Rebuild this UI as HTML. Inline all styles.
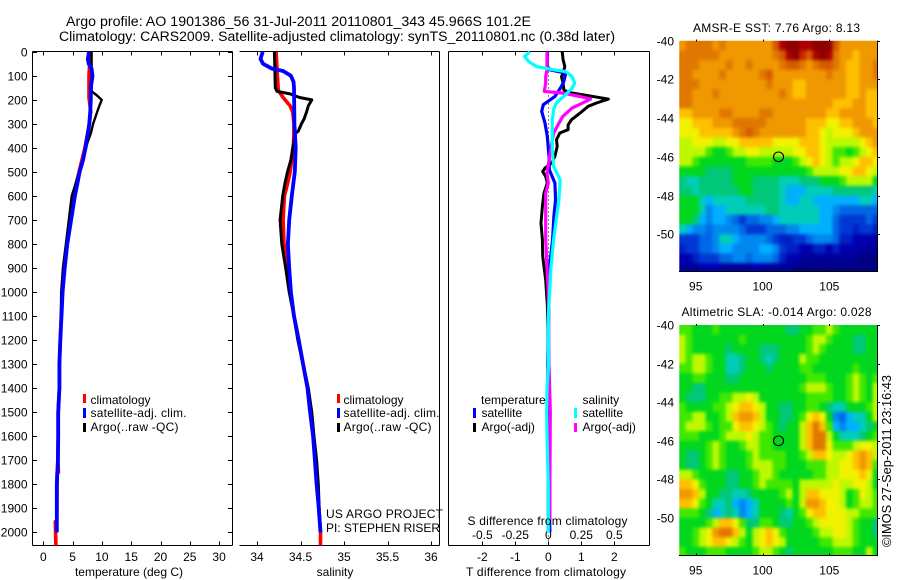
<!DOCTYPE html>
<html>
<head>
<meta charset="utf-8">
<title>Argo profile</title>
<style>
html,body{margin:0;padding:0;background:#fff;}
svg{display:block;}
text{font-family:"Liberation Sans",sans-serif;font-size:12px;fill:#000;}
</style>
</head>
<body>
<svg id="chart" xmlns="http://www.w3.org/2000/svg" width="900" height="580" viewBox="0 0 900 580">
<rect x="0" y="0" width="900" height="580" fill="#fff"/>
<defs>
<clipPath id="clip1"><rect x="679.3" y="40.7" width="198" height="231"/></clipPath>
<clipPath id="clip2"><rect x="679.3" y="325" width="198" height="230"/></clipPath>
<filter id="smooth" color-interpolation-filters="sRGB" x="-5%" y="-5%" width="110%" height="110%">
<feGaussianBlur stdDeviation="1.5"/>
<feComponentTransfer><feFuncA type="table" tableValues="0 1 1 1 1"/></feComponentTransfer>
</filter>
</defs>
<text style="font-size:13.5px" x="66" y="26" textLength="465" lengthAdjust="spacingAndGlyphs">Argo profile: AO 1901386_56 31-Jul-2011 20110801_343 45.966S 101.2E</text>
<text style="font-size:13.5px" x="59" y="41" textLength="556" lengthAdjust="spacingAndGlyphs">Climatology: CARS2009. Satellite-adjusted climatology: synTS_20110801.nc (0.38d later)</text>

<g id="panels"></g>

<g>
<rect x="83" y="394" width="3" height="9" fill="#f00"/>
<text x="90.5" y="404">climatology</text>
<rect x="83" y="408" width="3" height="10" fill="#00f"/>
<text x="90.5" y="417" textLength="96" lengthAdjust="spacing">satellite-adj. clim.</text>
<rect x="83" y="423" width="3" height="9" fill="#000"/>
<text x="90.5" y="431" textLength="88" lengthAdjust="spacing">Argo(..raw -QC)</text>
</g>
<g>
<rect x="337" y="394" width="3" height="9" fill="#f00"/>
<text x="343.5" y="404">climatology</text>
<rect x="337" y="408" width="3" height="10" fill="#00f"/>
<text x="343.5" y="417" textLength="96" lengthAdjust="spacing">satellite-adj. clim.</text>
<rect x="337" y="423" width="3" height="9" fill="#000"/>
<text x="343.5" y="431" textLength="88" lengthAdjust="spacing">Argo(..raw -QC)</text>
</g>
<text x="326" y="518" textLength="117" lengthAdjust="spacing">US ARGO PROJECT</text>
<text x="326" y="532" textLength="114" lengthAdjust="spacing">PI: STEPHEN RISER</text>

<g>
<text x="481" y="404">temperature</text>
<rect x="473" y="408" width="3" height="10" fill="#00f"/>
<text x="481.5" y="417">satellite</text>
<rect x="473" y="423" width="3" height="9" fill="#000"/>
<text x="481.5" y="431">Argo(-adj)</text>
<text x="582.5" y="404">salinity</text>
<rect x="574" y="408" width="3" height="10" fill="#0ff"/>
<text x="582.5" y="417">satellite</text>
<rect x="574" y="423" width="3" height="9" fill="#f0f"/>
<text x="582.5" y="431">Argo(-adj)</text>
</g>

<text x="129" y="576" text-anchor="middle">temperature (deg C)</text>
<text x="335" y="576" text-anchor="middle">salinity</text>
<text x="546" y="576" text-anchor="middle" textLength="160" lengthAdjust="spacing">T difference from climatology</text>
<text x="547.5" y="525" text-anchor="middle" textLength="160" lengthAdjust="spacing">S difference from climatology</text>
<text x="693" y="32" textLength="167" lengthAdjust="spacing">AMSR-E SST: 7.76 Argo: 8.13</text>
<text x="681.5" y="316" textLength="190" lengthAdjust="spacing">Altimetric SLA: -0.014 Argo: 0.028</text>
<text style="font-size:13px" transform="translate(891 547) rotate(-90)" x="0" y="0" textLength="172" lengthAdjust="spacingAndGlyphs">©IMOS 27-Sep-2011 23:16:43</text>
</svg>

<script>
// ---------- tick labels ----------
const depthTicks = [0,100,200,300,400,500,600,700,800,900,1000,1100,1200,1300,1400,1500,1600,1700,1800,1900,2000];
const tempTicks = [0,5,10,15,20,25,30];
const salTicks = [34,34.5,35,35.5,36];
const tDiffTicks = [-2,-1,0,1,2];
const sDiffTicks = [-0.5,-0.25,0,0.25,0.5];
const lonTicks = [95,100,105];
const latTicks = [-40,-42,-44,-46,-48,-50];
const floatLon = 101.2;
const floatLat = -46;

// ---------- temperature profiles ----------
const tempClimDepth = [0,100,190,250,300,400,500,550,600,700,800,900,1000,1100,1200,1300,1400,1500,1600,1700,1750,1755,1950,1955,2055];
const tempClimVal = [8,7.8,7.8,8.1,7.85,7.1,6.1,5.6,5.2,4.6,4.0,3.6,3.25,3.05,2.9,2.75,2.75,2.55,2.55,2.5,2.6,2.35,2.3,2.05,2.15];
const tempSatDepth = [0,30,50,70,100,150,200,250,300,350,400,450,500,550,600,700,800,900,1000,1100,1200,1300,1400,1500,1600,1700,1800,1900,2000];
const tempSatVal = [7.8,7.6,7.75,8.25,8.4,8.1,8.1,8,7.85,7.55,7.2,6.8,6.2,5.8,5.4,4.75,4.1,3.65,3.3,3.1,2.9,2.75,2.75,2.55,2.55,2.5,2.3,2.3,2.3];
const tempArgoDepth = [0,100,165,180,200,225,250,300,340,380,420,500,600,700,800,900,1000,1100,1200,1300,1400,1500,1600,1700,1800,1900,2000];
const tempArgoVal = [8.25,8.25,8.25,9.1,9.96,9.55,9.2,8.5,8.1,7.5,7.1,6.15,4.85,4.35,3.85,3.35,3.05,3.0,2.9,2.7,2.7,2.55,2.55,2.5,2.3,2.3,2.3];

// ---------- salinity profiles ----------
const salClimDepth = [0,100,160,190,225,250,300,400,500,550,600,700,800,900,1000,1100,1200,1300,1400,1500,1600,1700,1800,1900,2000,2055];
const salClimVal = [34.22,34.235,34.245,34.3,34.38,34.41,34.425,34.42,34.38,34.35,34.315,34.3,34.31,34.35,34.38,34.425,34.475,34.53,34.585,34.62,34.65,34.675,34.695,34.71,34.73,34.73];
const salSatDepth = [0,30,50,70,80,100,125,150,300,400,500,600,700,800,900,1000,1100,1200,1300,1400,1500,1600,1700,1800,1900,2000];
const salSatVal = [34.065,34.04,34.07,34.17,34.3,34.39,34.42,34.425,34.43,34.445,34.435,34.4,34.37,34.355,34.37,34.39,34.425,34.48,34.53,34.58,34.61,34.645,34.665,34.685,34.71,34.73];
const salArgoDepth = [0,150,165,175,190,200,225,250,280,300,330,340,400,450,500,550,600,700,800,900,1000,1100,1200,1300,1400,1500,1600,1700,1800,1900,2000];
const salArgoVal = [34.2,34.21,34.23,34.38,34.49,34.63,34.59,34.57,34.54,34.51,34.475,34.44,34.41,34.39,34.35,34.32,34.295,34.265,34.285,34.33,34.37,34.425,34.47,34.53,34.59,34.63,34.655,34.685,34.705,34.715,34.73];

// ---------- difference profiles ----------
const dTArgoDepth = [0,33,61,89,103,130,158,169,179,197,213,227,255,283,304,324,338,366,394,435,463,484,498,519,546,588,643,713,782,850,950,1050,1200,2000];
const dTArgoVal = [0.42,0.45,0.5,0.45,0.4,0.45,0.47,0.6,1.06,1.82,1.46,1.21,0.96,0.7,0.6,0.6,0.35,0.25,0.27,0.2,0.1,-0.1,-0.17,-0.08,-0.03,-0.13,-0.18,-0.22,-0.18,-0.17,-0.08,-0.03,0,0];
const dTSatDepth = [0,33,60,75,85,89,123,144,186,220,248,297,352,435,491,546,615,684,782,900,1000,1200,1500,1700,2000];
const dTSatVal = [-0.03,-0.03,-0.03,0.05,0.4,0.53,0.47,0.4,0.2,-0.15,-0.2,-0.1,-0.03,0.02,0.03,0.2,0.22,0.17,0.13,0.03,0.02,0,-0.03,0,0.05];
const dSArgoDepth = [0,75,103,130,165,172,186,197,213,234,269,297,338,435,505,546,588,643,713,782,900,1000,1300,1500,1800,1950];
const dSArgoVal = [-0.01,-0.01,-0.02,-0.02,-0.03,0.11,0.24,0.32,0.26,0.18,0.11,0.08,0.04,0.01,-0.01,0,-0.02,-0.02,-0.02,-0.02,-0.01,0,0.005,0.015,0.012,0.012];
const dSSatDepth = [0,19,40,61,75,82,103,130,151,179,213,241,283,352,408,477,533,616,699,782,900,1000,1100,1300,1400,1500,1600,1700,1800,2000];
const dSSatVal = [-0.14,-0.18,-0.15,-0.09,0.04,0.13,0.18,0.2,0.18,0.13,0.06,0.04,0.03,0.03,0.03,0.04,0.09,0.08,0.06,0.04,0.02,0.01,0,0.002,-0.01,-0.012,-0.01,-0.005,0,0];

// ---------- map colour scale ----------
const mapPalette = ["#000082","#00009a","#0000b0","#0020c4","#0038d4","#0068e4","#0088f0","#00b0ff","#00cdb8","#00c878","#00d71e","#40e800","#bef800","#f2f200","#ffc000","#f09800","#e07800","#d75a00","#c82800","#ad0000","#8c0000"];

// ---------- SST map levels (rows north to south, 0.5 degree cells) ----------
const sstRow00 = [15,16,16,16,16,15,16,15,15,15,15,15,15,15,17,19,20,20,19,19,20,20,20,17,15,15,15,15,15,15];
const sstRow01 = [16,16,16,16,16,16,15,15,15,15,15,15,15,15,16,17,19,20,18,17,19,20,19,16,15,15,14,15,15,15];
const sstRow02 = [16,16,16,15,15,15,15,16,15,15,16,15,15,15,15,16,17,17,16,15,16,17,17,16,15,14,14,15,15,16];
const sstRow03 = [16,16,15,15,15,15,16,15,15,15,15,15,16,17,15,15,15,15,15,15,15,15,16,15,15,14,14,15,15,16];
const sstRow04 = [16,16,16,15,15,15,15,15,15,15,15,15,15,16,15,15,15,14,14,15,15,15,15,15,15,14,14,15,15,15];
const sstRow05 = [16,16,15,15,15,16,15,15,15,15,15,15,15,15,15,16,15,14,14,15,15,15,15,15,15,14,14,15,14,14];
const sstRow06 = [16,16,15,15,15,15,15,15,15,15,15,15,15,15,15,15,15,15,15,15,15,15,15,14,14,14,15,15,14,14];
const sstRow07 = [14,14,15,15,15,15,16,16,15,15,15,15,16,16,15,15,15,15,15,15,15,15,14,14,15,15,15,15,14,14];
const sstRow08 = [13,13,14,14,14,15,15,15,16,16,16,16,16,15,15,15,15,15,15,14,14,14,13,13,14,14,15,15,15,14];
const sstRow09 = [13,13,13,14,14,14,14,14,15,16,17,16,15,15,15,15,15,15,15,14,14,13,12,13,13,13,14,15,15,15];
const sstRow10 = [12,12,13,13,13,12,12,13,13,14,14,14,14,14,13,13,13,13,14,14,14,13,12,12,12,12,12,13,14,15];
const sstRow11 = [12,12,12,12,11,10,10,11,12,12,13,13,12,12,12,12,12,13,13,14,14,13,12,11,11,10,11,12,13,14];
const sstRow12 = [12,12,11,10,10,10,10,10,10,10,11,11,11,11,10,10,10,11,12,13,14,13,12,11,12,12,13,14,14,13];
const sstRow13 = [10,10,10,10,9,9,9,9,10,10,10,10,10,10,10,10,10,10,10,11,12,12,12,12,13,13,14,14,13,12];
const sstRow14 = [9,8,8,9,9,9,9,9,10,10,10,9,9,9,9,8,8,8,9,9,9,10,10,10,11,12,12,12,12,10];
const sstRow15 = [9,9,8,9,9,9,9,9,9,10,10,9,9,9,9,8,7,7,7,8,8,8,8,9,9,9,9,9,9,8];
const sstRow16 = [10,10,10,8,7,8,8,8,8,8,9,9,9,9,9,8,7,7,8,8,7,7,7,7,7,7,7,8,8,7];
const sstRow17 = [10,10,10,8,6,7,7,8,8,8,8,8,8,9,9,8,8,8,8,8,8,7,7,6,5,5,5,5,5,5];
const sstRow18 = [10,10,9,7,6,7,7,6,5,4,5,5,6,6,7,8,8,8,8,8,8,7,7,5,4,4,4,4,5,4];
const sstRow19 = [8,7,6,6,5,6,6,6,6,5,4,4,4,5,5,5,6,6,7,7,7,7,7,5,4,4,3,4,4,3];
const sstRow20 = [4,4,4,5,5,6,8,8,7,6,6,6,6,5,4,3,3,4,4,5,6,6,6,5,3,3,2,2,2,2];
const sstRow21 = [3,4,4,5,5,6,7,7,6,6,6,6,7,7,6,4,3,3,2,2,3,3,2,3,2,2,2,1,1,1];
const sstRow22 = [2,2,3,4,4,4,5,5,6,6,5,6,6,6,5,3,2,2,1,1,1,1,1,1,1,1,1,0,0,0];
const sstRow23 = [1,1,1,2,2,2,1,1,1,1,1,2,2,1,1,1,1,0,0,0,0,0,0,0,0,0,0,0,0,0];
const sstLevels = [sstRow00,sstRow01,sstRow02,sstRow03,sstRow04,sstRow05,sstRow06,sstRow07,sstRow08,sstRow09,sstRow10,sstRow11,sstRow12,sstRow13,sstRow14,sstRow15,sstRow16,sstRow17,sstRow18,sstRow19,sstRow20,sstRow21,sstRow22,sstRow23];

// ---------- SLA map levels ----------
const slaRow00 = [11,11,10,10,10,11,10,10,10,10,10,10,10,10,10,10,9,9,10,10,11,11,12,11,10,10,10,10,10,10];
const slaRow01 = [12,11,10,10,10,10,10,10,10,11,10,10,10,10,10,10,10,10,10,11,12,12,11,10,10,10,9,9,10,10];
const slaRow02 = [12,11,10,10,10,10,10,9,10,10,10,10,9,9,9,10,10,10,10,11,12,11,10,10,10,10,9,9,10,10];
const slaRow03 = [12,11,12,12,11,10,10,8,8,9,10,10,9,8,9,10,10,10,12,11,11,10,10,10,10,10,10,10,10,10];
const slaRow04 = [11,11,12,12,11,10,10,8,8,9,10,10,10,9,10,10,10,10,11,11,10,10,10,10,10,10,11,10,10,10];
const slaRow05 = [10,10,11,11,10,10,10,9,9,10,10,10,10,10,10,10,10,10,10,11,11,11,10,10,10,11,12,11,10,11];
const slaRow06 = [10,10,9,9,10,10,10,10,10,10,10,10,10,10,10,10,10,10,11,12,12,12,11,10,10,11,12,11,10,12];
const slaRow07 = [10,9,9,9,10,10,11,11,12,12,13,12,10,10,10,10,10,10,10,11,11,11,11,10,10,11,12,11,10,12];
const slaRow08 = [11,10,10,10,10,11,11,12,13,14,14,13,12,10,10,9,9,10,10,11,11,10,9,8,8,10,10,10,11,12];
const slaRow09 = [11,11,12,12,10,10,11,12,14,15,15,14,12,10,10,9,9,10,11,13,14,13,10,6,5,7,8,8,10,12];
const slaRow10 = [11,12,12,12,11,10,11,11,13,14,14,13,12,11,10,9,10,10,12,14,16,14,11,7,6,7,7,8,9,10];
const slaRow11 = [11,11,11,10,10,10,11,12,12,12,13,12,11,11,10,10,10,10,12,14,16,16,12,10,8,8,8,9,10,11];
const slaRow12 = [10,10,10,10,11,12,11,10,10,11,12,12,11,11,10,10,10,10,12,14,16,16,13,11,11,11,12,13,13,12];
const slaRow13 = [10,9,9,10,11,12,11,10,10,10,11,12,11,11,11,11,10,10,11,12,14,14,13,12,12,13,14,15,14,12];
const slaRow14 = [10,9,9,10,11,12,11,10,10,10,11,12,12,12,11,11,10,10,10,11,11,11,12,12,13,13,14,15,14,11];
const slaRow15 = [12,12,11,10,10,10,10,9,9,10,10,11,12,12,11,10,10,10,10,10,11,11,12,12,13,13,13,14,13,10];
const slaRow16 = [14,14,13,11,10,10,10,9,9,10,10,11,12,11,11,11,11,10,12,12,12,12,12,13,12,12,13,13,12,10];
const slaRow17 = [15,15,14,12,10,10,9,9,8,8,9,10,10,10,10,11,12,10,12,14,14,13,13,13,12,10,11,13,12,11];
const slaRow18 = [14,14,13,11,10,8,8,9,7,6,7,8,10,10,10,10,11,10,12,15,15,14,13,13,12,10,11,12,12,11];
const slaRow19 = [11,11,11,10,9,7,8,9,8,6,7,8,10,10,10,9,8,10,11,13,14,14,13,13,13,12,12,11,11,11];
const slaRow20 = [10,10,10,10,11,12,14,14,13,11,9,9,11,11,10,9,9,10,10,11,12,13,13,13,13,12,11,10,10,9];
const slaRow21 = [10,10,11,12,13,15,16,16,14,12,10,12,13,14,13,11,10,10,10,10,11,12,12,13,13,12,11,10,10,9];
const slaRow22 = [10,10,11,12,13,14,14,13,12,11,10,12,13,14,13,12,10,10,10,10,10,11,11,12,12,12,11,10,10,10];
const slaRow23 = [11,10,10,10,11,11,11,10,10,10,10,11,12,12,11,10,9,10,10,10,10,10,10,11,11,11,10,10,12,10];
const slaLevels = [slaRow00,slaRow01,slaRow02,slaRow03,slaRow04,slaRow05,slaRow06,slaRow07,slaRow08,slaRow09,slaRow10,slaRow11,slaRow12,slaRow13,slaRow14,slaRow15,slaRow16,slaRow17,slaRow18,slaRow19,slaRow20,slaRow21,slaRow22,slaRow23];

// ---------- axis functions ----------
const NS = "http://www.w3.org/2000/svg";
const PTOP = 51.5, PBOT = 545.5;
function yDepth(d){ return 51.8 + 0.2403 * d; }
function xTemp(v){ return 43.3 + 5.86 * v; }
function xSal(v){ return 257 + 87 * (v - 34); }
function xDT(v){ return 548.3 + 33 * v; }
function xDS(v){ return 548.3 + 132 * v; }
function xLon(v){ return 695.7 + 13.36 * (v - 95); }
function yLat1(v){ return 40.7 + 19.35 * (-40 - v); }
function yLat2(v){ return 325 + 19.3 * (-40 - v); }

const root = document.getElementById("panels");

function addLine(parent, x1, y1, x2, y2, name){
  const el = document.createElementNS(NS, "line");
  el.setAttribute("x1", x1);
  el.setAttribute("y1", y1);
  el.setAttribute("x2", x2);
  el.setAttribute("y2", y2);
  el.setAttribute("stroke", "#000");
  el.setAttribute("stroke-width", "1");
  el.setAttribute("shape-rendering", "crispEdges");
  
  
  parent.appendChild(el);
  return el;
}
function addText(parent, x, y, str, anchor, name){
  const el = document.createElementNS(NS, "text");
  el.setAttribute("x", x);
  el.setAttribute("y", y);
  el.setAttribute("text-anchor", anchor);
  el.textContent = str;
  
  
  parent.appendChild(el);
  return el;
}
function addGroup(name){
  const g = document.createElementNS(NS, "g");
  
  
  root.appendChild(g);
  return g;
}
function addSeries(parent, xs, depths, xFn, color, width, name){
  const el = document.createElementNS(NS, "polyline");
  const n = Math.min(xs.length, depths.length);
  const pts = [];
  for (let i = 0; i < n; i++) pts.push(xFn(xs[i]).toFixed(1) + "," + yDepth(depths[i]).toFixed(1));
  el.setAttribute("points", pts.join(" "));
  el.setAttribute("fill", "none");
  el.setAttribute("stroke", color);
  el.setAttribute("stroke-width", width);
  el.setAttribute("stroke-linejoin", "round");
  
  
  parent.appendChild(el);
}

// ---------- panel 1: temperature ----------
const p1 = addGroup("temperature-panel");
addLine(p1, 32.5, PTOP, 232.5, PTOP, "temperature-top-axis");
addLine(p1, 32.5, PBOT, 232.5, PBOT, "temperature-bottom-axis");
addLine(p1, 32.5, PTOP, 32.5, PBOT, "temperature-left-axis");
addLine(p1, 232.5, PTOP, 232.5, PBOT, "temperature-right-axis");
depthTicks.forEach(function(d){
  const y = Math.round(yDepth(d)) + 0.5;
  addLine(p1, 32.5, y, 37, y, "depth-tick-left");
  addLine(p1, 228, y, 232.5, y, "depth-tick-right");
  addText(p1, 27.5, y + 4, String(d), "end", "depth-tick-label");
});
tempTicks.forEach(function(v){
  const x = Math.round(xTemp(v)) + 0.5;
  addLine(p1, x, PTOP, x, PTOP + 4, "temperature-tick-top");
  addLine(p1, x, PBOT - 4, x, PBOT, "temperature-tick-bottom");
  addText(p1, xTemp(v), 561, String(v), "middle", "temperature-tick-label");
});
addSeries(p1, tempClimVal, tempClimDepth, xTemp, "#f00", 3.6, "temperature-climatology-line");
addSeries(p1, tempArgoVal, tempArgoDepth, xTemp, "#000", 2.4, "temperature-argo-line");
addSeries(p1, tempSatVal, tempSatDepth, xTemp, "#00f", 3.8, "temperature-satellite-line");

// ---------- panel 2: salinity ----------
const p2 = addGroup("salinity-panel");
addLine(p2, 239.5, PTOP, 439.5, PTOP, "salinity-top-axis");
addLine(p2, 239.5, PBOT, 439.5, PBOT, "salinity-bottom-axis");
addLine(p2, 439.5, PTOP, 439.5, PBOT, "salinity-right-axis");
salTicks.forEach(function(v){
  const x = Math.round(xSal(v)) + 0.5;
  addLine(p2, x, PTOP, x, PTOP + 4, "salinity-tick-top");
  addLine(p2, x, PBOT - 4, x, PBOT, "salinity-tick-bottom");
  addText(p2, xSal(v), 561, String(v), "middle", "salinity-tick-label");
});
addSeries(p2, salClimVal, salClimDepth, xSal, "#f00", 3.6, "salinity-climatology-line");
addSeries(p2, salArgoVal, salArgoDepth, xSal, "#000", 3, "salinity-argo-line");
addSeries(p2, salSatVal, salSatDepth, xSal, "#00f", 3.8, "salinity-satellite-line");

// ---------- panel 3: differences ----------
const p3 = addGroup("difference-panel");
addLine(p3, 448.5, PTOP, 649.5, PTOP, "difference-top-axis");
addLine(p3, 448.5, PBOT, 649.5, PBOT, "difference-bottom-axis");
addLine(p3, 448.5, PTOP, 448.5, PBOT, "difference-left-axis");
addLine(p3, 649.5, PTOP, 649.5, PBOT, "difference-right-axis");
tDiffTicks.forEach(function(v){
  const x = Math.round(xDT(v)) + 0.5;
  addLine(p3, x, PTOP, x, PTOP + 4, "t-difference-tick-top");
  addLine(p3, x, PBOT - 4, x, PBOT, "t-difference-tick-bottom");
  addText(p3, xDT(v), 561, String(v), "middle", "t-difference-tick-label");
});
sDiffTicks.forEach(function(v){
  addText(p3, xDS(v), 539, String(v), "middle", "s-difference-tick-label");
});
const zeroLine = addLine(p3, 548.5, PTOP, 548.5, PBOT, "zero-difference-line");
zeroLine.setAttribute("stroke-dasharray", "1 3");
addSeries(p3, dTArgoVal, dTArgoDepth, xDT, "#000", 3, "t-difference-argo-line");
addSeries(p3, dTSatVal, dTSatDepth, xDT, "#00f", 3.2, "t-difference-satellite-line");
addSeries(p3, dSArgoVal, dSArgoDepth, xDS, "#f0f", 3.2, "s-difference-argo-line");
addSeries(p3, dSSatVal, dSSatDepth, xDS, "#0ff", 3.2, "s-difference-satellite-line");

// ---------- maps ----------
function drawMap(levels, yLat, clipId, top, bottom, prefix){
  const g = addGroup(prefix + "-map");
  const clipped = document.createElementNS(NS, "g");
  clipped.setAttribute("clip-path", "url(#" + clipId + ")");
  
  
  g.appendChild(clipped);
  const cells = document.createElementNS(NS, "g");
  cells.setAttribute("filter", "url(#smooth)");
  
  
  clipped.appendChild(cells);
  levels.forEach(function(row, r){
    row.forEach(function(level, c){
      const lonW = 93.75 + c * 0.5;
      const latN = -40 - r * 0.5;
      const rect = document.createElementNS(NS, "rect");
      const x0 = xLon(lonW), x1 = xLon(lonW + 0.5), y0 = yLat(latN), y1 = yLat(latN - 0.5);
      rect.setAttribute("x", x0.toFixed(2));
      rect.setAttribute("y", y0.toFixed(2));
      rect.setAttribute("width", (x1 - x0 + 0.6).toFixed(2));
      rect.setAttribute("height", (y1 - y0 + 0.6).toFixed(2));
      rect.setAttribute("fill", mapPalette[level]);
      
      
      cells.appendChild(rect);
    });
  });
  addLine(g, 679, bottom, 878, bottom, prefix + "-bottom-axis");
  addLine(g, 877.5, top, 877.5, bottom, prefix + "-right-axis");
  lonTicks.forEach(function(v){
    const x = Math.round(xLon(v)) + 0.5;
    addLine(g, x, top - 1, x, top + 1, prefix + "-lon-tick-top");
    addLine(g, x, bottom - 2, x, bottom, prefix + "-lon-tick-bottom");
    addText(g, xLon(v), bottom + 19, String(v), "middle", prefix + "-lon-tick-label");
  });
  latTicks.forEach(function(v){
    const y = Math.round(yLat(v)) + 0.5;
    addLine(g, 877.5, y, 880, y, prefix + "-lat-tick-right");
    addText(g, 674, y + 4, String(v), "end", prefix + "-lat-tick-label");
  });
  const marker = document.createElementNS(NS, "ellipse");
  marker.setAttribute("cx", xLon(floatLon));
  marker.setAttribute("cy", yLat(floatLat));
  marker.setAttribute("rx", 5);
  marker.setAttribute("ry", 4.8);
  marker.setAttribute("fill", "none");
  marker.setAttribute("stroke", "#000");
  marker.setAttribute("stroke-width", "1.1");
  
  
  g.appendChild(marker);
}
drawMap(sstLevels, yLat1, "clip1", 40.5, 271.5, "sst");
drawMap(slaLevels, yLat2, "clip2", 325, 555.5, "sla");
</script>
</body>
</html>
